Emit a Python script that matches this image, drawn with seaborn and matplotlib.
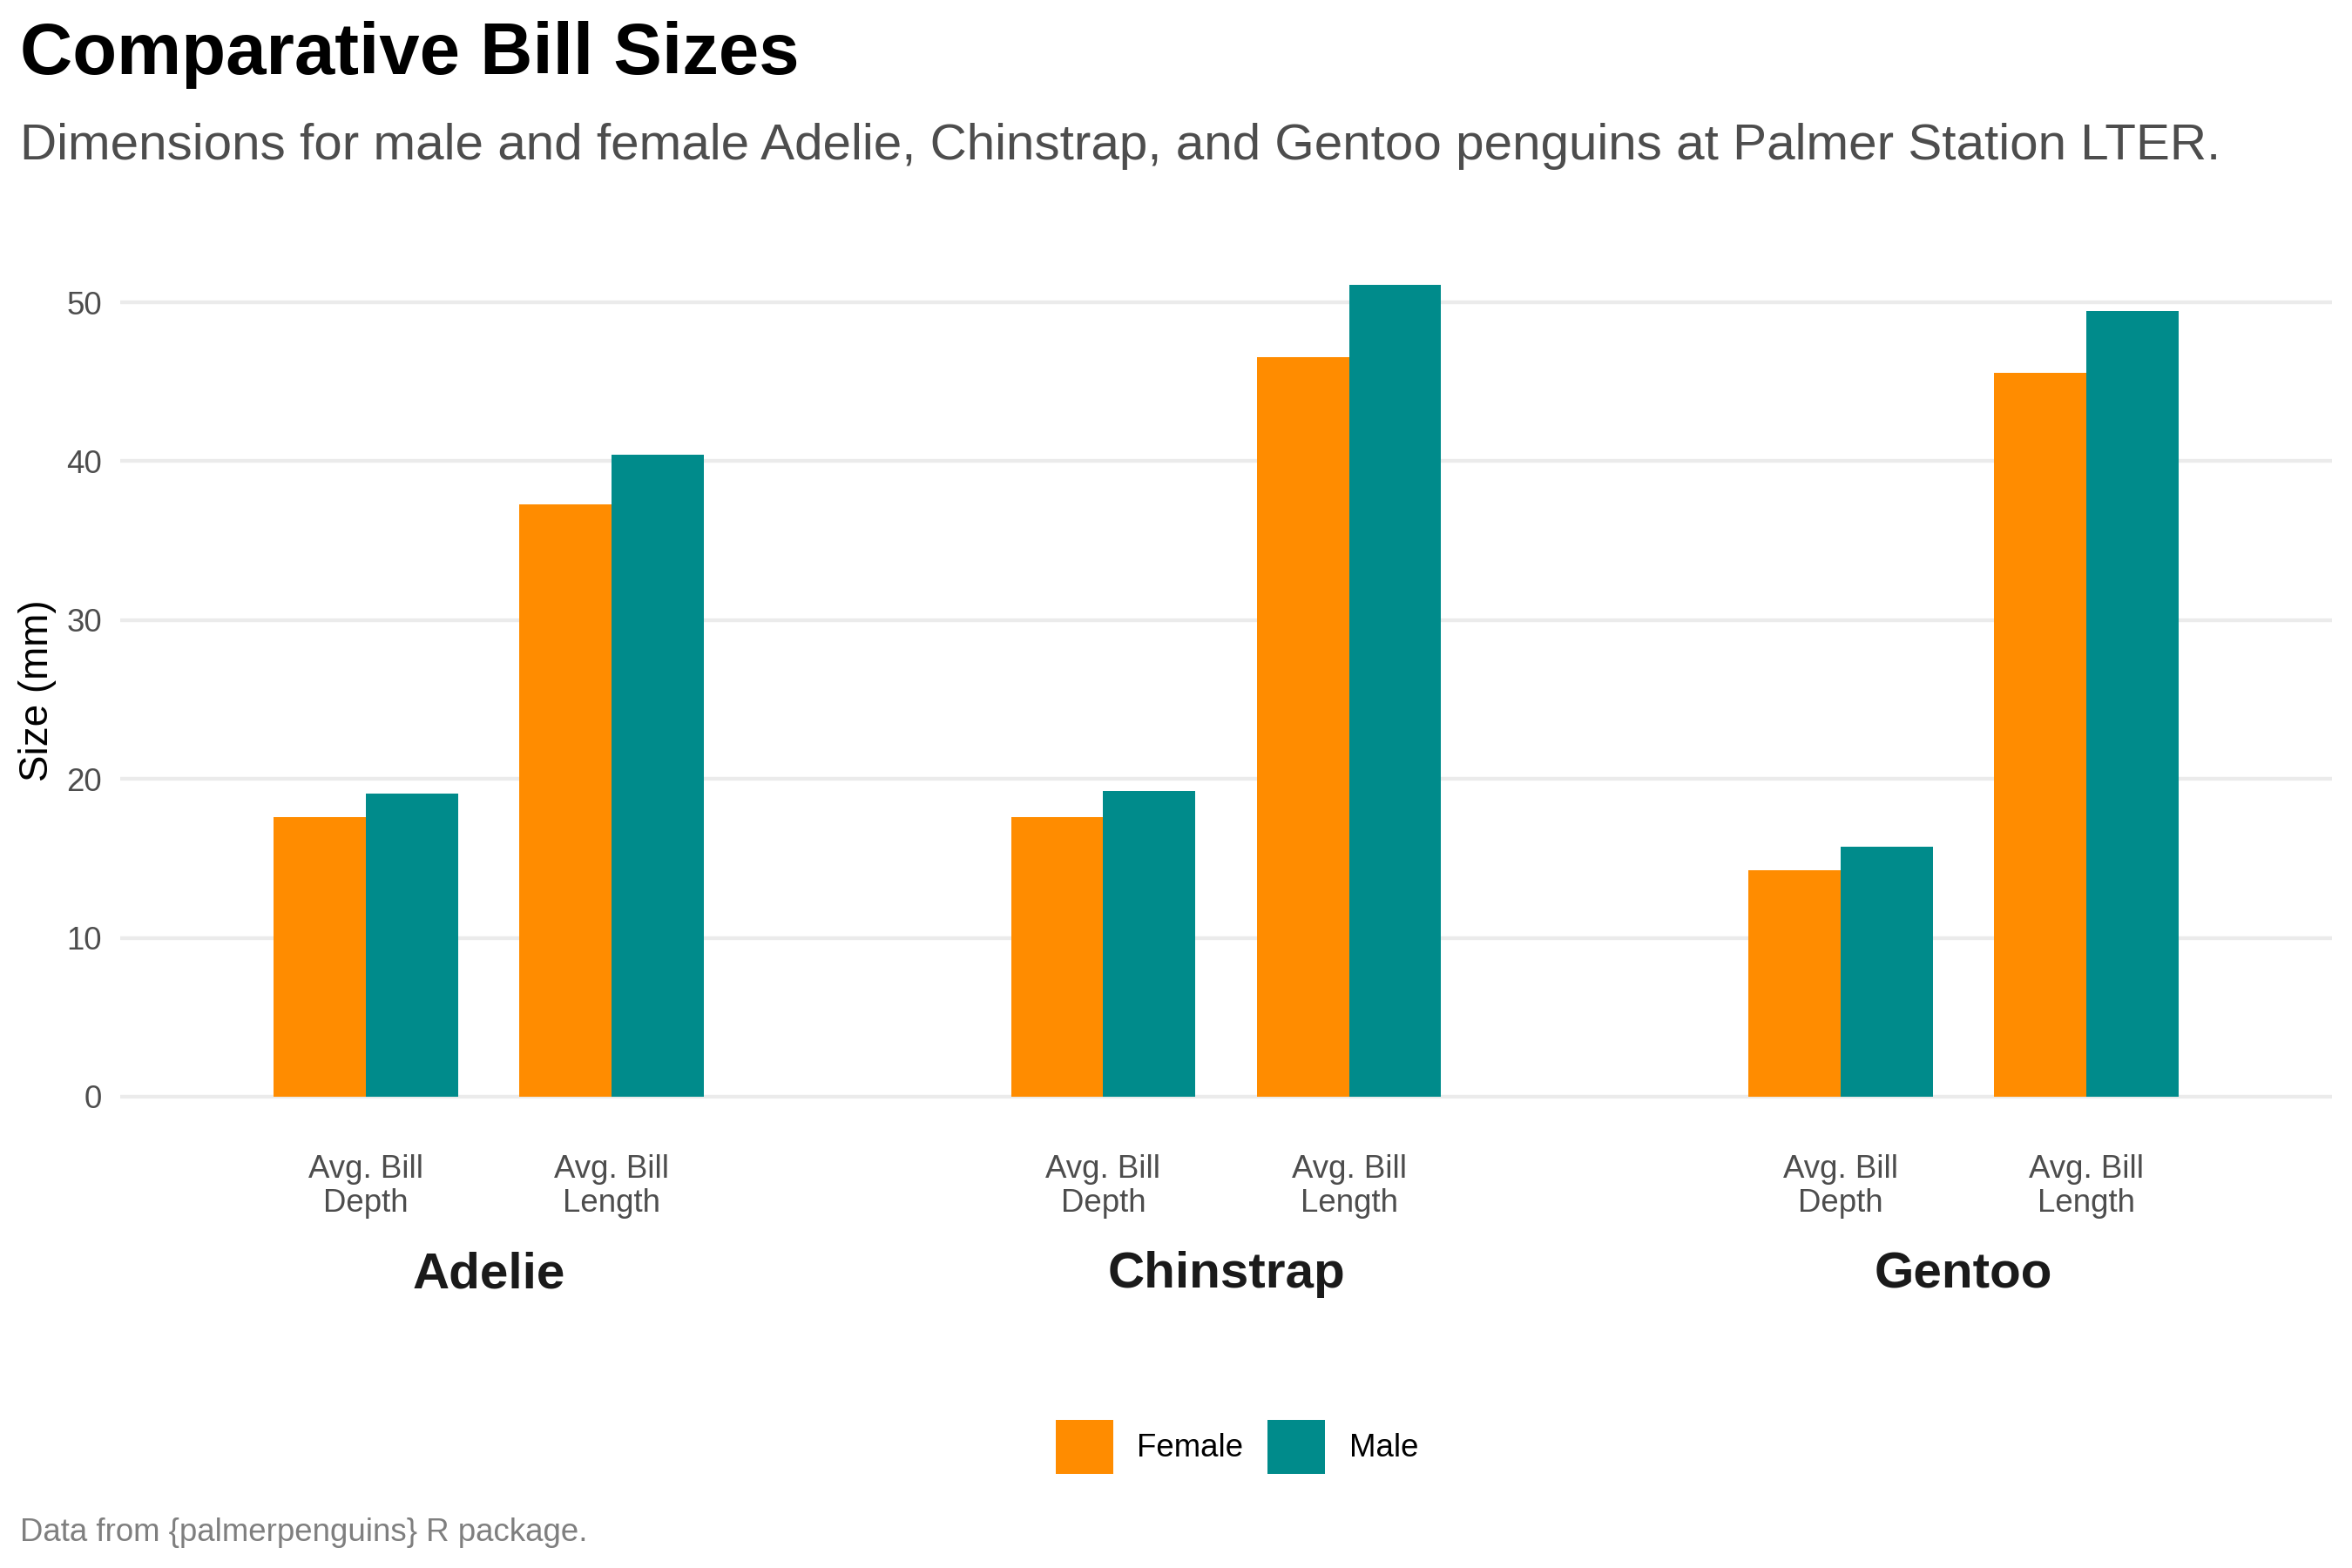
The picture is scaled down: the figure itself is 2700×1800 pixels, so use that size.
import pandas as pd
import seaborn as sns
import matplotlib.pyplot as plt
from matplotlib.patches import Patch

# mean bill sizes (mm) per species, from palmerpenguins
species = ["Adelie", "Chinstrap", "Gentoo"]
measures = ["Avg. Bill\nDepth", "Avg. Bill\nLength"]
sexes = ["Female", "Male"]
female_depth = [17.62, 17.59, 14.24]
male_depth = [19.07, 19.25, 15.72]
female_length = [37.26, 46.57, 45.56]
male_length = [40.39, 51.09, 49.47]
colors = ["#FF8C00", "#008B8B"]

rows = []
for i, sp in enumerate(species):
    rows.append([sp, measures[0], "Female", female_depth[i]])
    rows.append([sp, measures[0], "Male", male_depth[i]])
    rows.append([sp, measures[1], "Female", female_length[i]])
    rows.append([sp, measures[1], "Male", male_length[i]])
df = pd.DataFrame(rows, columns=["species", "measure", "sex", "size"])

sns.set_theme(style="white")
plt.rcParams["font.family"] = ["Liberation Sans", "DejaVu Sans"]
plt.rcParams["text.color"] = "black"
plt.rcParams["axes.labelcolor"] = "black"

fig, axes = plt.subplots(1, 3, figsize=(9, 6), dpi=300, sharey=True)
fig.subplots_adjust(left=0.0511, right=0.9915, bottom=0.2747, top=0.8441, wspace=0)

ymax = df["size"].max()
pad = ymax * 0.05

for ax, sp in zip(axes, species):
    sub = df[df["species"] == sp]
    sns.barplot(data=sub, x="measure", y="size", hue="sex", order=measures,
                hue_order=sexes, palette=colors, width=0.75, saturation=1,
                errorbar=None, linewidth=0, legend=False, ax=ax)
    ax.set_xlim(-1, 2)
    ax.set_ylim(-pad, ymax + pad)
    ax.set_yticks([0, 10, 20, 30, 40, 50])
    ax.yaxis.grid(True, color="#EBEBEB", lw=1.05)
    ax.xaxis.grid(False)
    ax.set_axisbelow(True)
    for s in ax.spines.values():
        s.set_visible(False)
    ax.tick_params(axis="both", length=0, labelsize=8.8, labelcolor="#4D4D4D")
    ax.tick_params(axis="x", pad=4.7)
    ax.tick_params(axis="y", pad=5)
    for lab in ax.get_xticklabels():
        lab.set_linespacing(1.16)
    ax.set_xlabel("")
    ax.set_ylabel("")
    ax.text(0.5, -0.1683, sp, transform=ax.transAxes, ha="center", va="baseline",
            fontsize=14, fontweight="bold", color="#1A1A1A")

axes[0].set_ylabel("Size (mm)", fontsize=11, color="black", labelpad=2.8)

fig.text(0.0085, 1 - 85 / 1800, "Comparative Bill Sizes", fontsize=20,
         fontweight="bold", color="black", va="baseline", ha="left")
fig.text(0.0085, 1 - 183 / 1800,
         "Dimensions for male and female Adelie, Chinstrap, and Gentoo penguins at Palmer Station LTER.",
         fontsize=14, color="#4D4D4D", va="baseline", ha="left")
fig.text(0.0085, 1 - 1769 / 1800, "Data from {palmerpenguins} R package.",
         fontsize=8.8, color="#7F7F7F", va="baseline", ha="left")

handles = [Patch(facecolor=c, edgecolor="none", label=s) for s, c in zip(sexes, colors)]
fig.legend(handles=handles, loc="center", bbox_to_anchor=(1420 / 2700, 1 - 1661 / 1800),
           ncol=2, frameon=False, fontsize=8.8, handlelength=1.8, handleheight=2.2,
           handletextpad=0.76, columnspacing=0.75, borderpad=0)

fig.savefig("out.png", dpi=300)
